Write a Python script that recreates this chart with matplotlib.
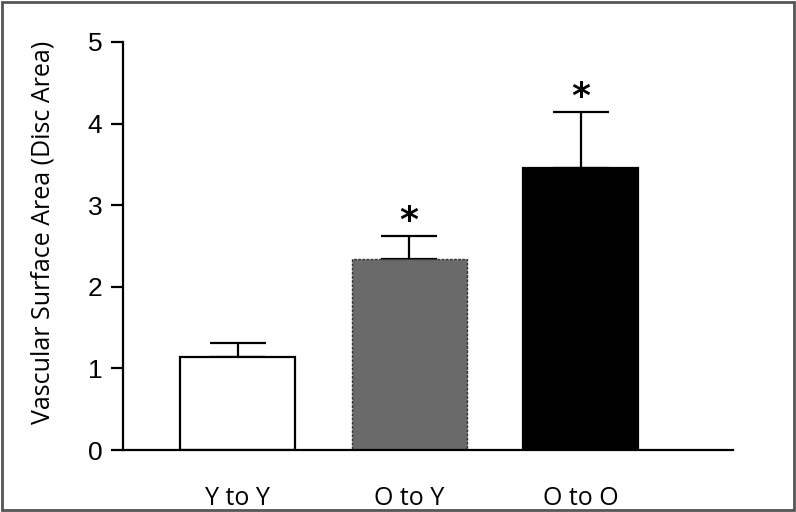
import matplotlib
matplotlib.use("Agg")
import matplotlib.pyplot as plt
from matplotlib.patches import Rectangle

categories = ["Y to Y", "O to Y", "O to O"]
means = [1.14, 2.34, 3.46]
errors = [0.17, 0.28, 0.68]
colors = ["#ffffff", "#6a6a6a", "#000000"]
significant = [False, True, True]

fig = plt.figure(figsize=(7.96, 5.12), dpi=100)
ax = fig.add_axes([0.1545, 0.121, 0.7665, 0.797])

x = list(range(len(categories)))
bars = ax.bar(x, means, width=0.67, color=colors, edgecolor="black", linewidth=1.6, zorder=2)
bars[1].set_edgecolor("#333333")
bars[1].set_linestyle((0, (2, 1)))
bars[1].set_linewidth(1.0)

ax.errorbar(x, means, yerr=[[0] * len(errors), errors], fmt="none", ecolor="black",
            elinewidth=1.6, capsize=20, capthick=1.6, zorder=1)

for xi, m, e, s in zip(x, means, errors, significant):
    if s:
        ax.text(xi, m + e - 0.025, "*", ha="center", va="bottom", fontsize=26,
                fontweight="bold", family="DejaVu Sans")

ax.set_xlim(-0.67, 2.89)
ax.set_ylim(0, 5)
ax.set_yticks([0, 1, 2, 3, 4, 5])
ax.set_yticklabels(["0", "1", "2", "3", "4", "5"], fontsize=19, family="Liberation Sans")
ax.set_xticks(x)
ax.set_xticklabels(categories, fontsize=18, family="Open Sans")
ax.tick_params(axis="x", length=0, pad=26)
ax.tick_params(axis="y", length=9, width=1.6, pad=6)
ax.spines["top"].set_visible(False)
ax.spines["right"].set_visible(False)
ax.spines["left"].set_linewidth(1.6)
ax.spines["bottom"].set_linewidth(1.6)
ax.set_ylabel("Vascular Surface Area (Disc Area)", fontsize=18, family="Open Sans")
ax.yaxis.set_label_coords(-0.11, 0.534)

fig.patches.append(Rectangle((0.002, 0.003), 0.996, 0.994, transform=fig.transFigure,
                             fill=False, edgecolor="#555555", linewidth=2.0))

fig.savefig("out.png", dpi=100)
